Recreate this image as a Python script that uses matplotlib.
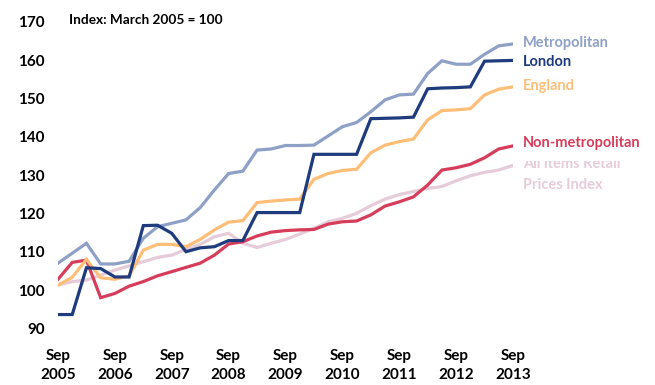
import matplotlib
matplotlib.use("Agg")
import matplotlib.pyplot as plt
from matplotlib.patches import Rectangle

plt.rcParams['font.family'] = ['Lato', 'DejaVu Sans']

quarters = ["Sep 2005"] + [""] * 31 + ["Sep 2013"]
xtick_labels = ["Sep\n2005", "Sep\n2006", "Sep\n2007", "Sep\n2008", "Sep\n2009",
                "Sep\n2010", "Sep\n2011", "Sep\n2012", "Sep\n2013"]
yticks = [90, 100, 110, 120, 130, 140, 150, 160, 170]

metropolitan = [107.0, 109.6, 112.2, 106.8, 106.8, 107.5, 113.5, 116.5, 117.4, 118.3, 121.5,
                126.1, 130.4, 131.0, 136.5, 136.8, 137.7, 137.7, 137.8, 140.2, 142.6,
                143.7, 146.5, 149.6, 150.9, 151.1, 156.5, 159.8, 158.9, 158.9, 161.5, 163.7, 164.2]
london = [93.6, 93.6, 105.8, 105.6, 103.4, 103.4, 116.8, 116.9, 114.8, 110.0, 111.0,
          111.3, 112.9, 112.9, 120.2, 120.2, 120.2, 120.2, 135.4, 135.4, 135.4,
          135.4, 144.7, 144.8, 144.9, 145.1, 152.5, 152.7, 152.8, 153.0, 159.7, 159.8, 159.9]
england = [101.3, 103.3, 108.0, 103.2, 102.8, 103.7, 110.4, 111.9, 111.9, 111.3, 113.2,
           115.7, 117.7, 118.1, 122.8, 123.2, 123.5, 123.7, 128.9, 130.4, 131.2,
           131.5, 135.8, 137.8, 138.7, 139.4, 144.4, 146.8, 147.0, 147.3, 150.9, 152.4, 153.0]
non_metropolitan = [102.8, 107.2, 107.8, 98.0, 99.1, 101.0, 102.2, 103.7, 104.8, 105.9, 107.0,
                    109.1, 112.0, 112.6, 114.1, 115.1, 115.5, 115.7, 115.8, 117.2, 117.8,
                    118.0, 119.6, 121.9, 123.0, 124.3, 127.4, 131.3, 131.9, 132.8, 134.5, 136.8, 137.6]
rpi = [101.3, 102.2, 102.6, 103.9, 105.2, 106.3, 107.4, 108.5, 109.1, 110.6, 111.9,
       113.9, 114.8, 112.2, 111.1, 112.2, 113.2, 114.6, 116.1, 117.8, 118.7,
       120.0, 122.0, 123.7, 124.9, 125.7, 126.5, 127.0, 128.5, 129.8, 130.7, 131.3, 132.5]

series = [
    ("All items Retail\nPrices Index", rpi, "#E6CBD9"),
    ("Non-metropolitan", non_metropolitan, "#D63D5A"),
    ("England", england, "#FFBE78"),
    ("Metropolitan", metropolitan, "#8EA0C6"),
    ("London", london, "#1E3B7D"),
]

W, H = 655, 385
fig = plt.figure(figsize=(W / 100, H / 100), dpi=100)
ylo, yhi = 86, 172
px_per_unit = 3.833
top_px = 21.7 - (yhi - 170) * px_per_unit
bot_px = 21.7 + (170 - ylo) * px_per_unit
left_px, right_px = 58, 513
ax = fig.add_axes([left_px / W, 1 - bot_px / H, (right_px - left_px) / W, (bot_px - top_px) / H])

x = list(range(len(quarters)))
for name, vals, col in series:
    ax.plot(x, vals, color=col, lw=2.3, solid_joinstyle='miter')

ax.set_xlim(0, len(quarters) - 1)
ax.set_ylim(ylo, yhi)
ax.set_xticks(list(range(0, len(quarters), 4)))
ax.set_xticklabels(xtick_labels, fontsize=11, fontweight='bold', linespacing=1.5)
ax.set_yticks(yticks)
ax.set_yticklabels([str(v) for v in yticks], fontsize=11, fontweight='bold')
ax.tick_params(axis='both', length=0)
ax.tick_params(axis='y', pad=9.5)
ax.tick_params(axis='x', pad=3.5)
for s in ax.spines.values():
    s.set_visible(False)

fig.text(69 / W, 1 - 20 / H, "Index: March 2005 = 100", fontsize=9.8, fontweight='bold',
         ha='left', va='center', color='black')

lx = 523 / W
labels = [
    ("Metropolitan", 43.3, "#8EA0C6"),
    ("London", 62.3, "#1E3B7D"),
    ("England", 86.0, "#FFBE78"),
    ("Non-metropolitan", 143.3, "#D63D5A"),
]
for t, ypx, col in labels:
    fig.text(lx, 1 - ypx / H, t, fontsize=10.5, fontweight='bold', color=col,
             ha='left', va='center', zorder=3)

fig.text(lx, 1 - 174.5 / H, "All items Retail\nPrices Index", fontsize=10.5, fontweight='bold',
         color="#E6CBD9", ha='left', va='center', linespacing=1.55, zorder=1)
# white box of the Non-metropolitan label hides the top of the RPI label
fig.patches.append(Rectangle((518 / W, 1 - 160.5 / H), 135 / W, 8 / H,
                             transform=fig.transFigure, facecolor='white',
                             edgecolor='none', zorder=2))

fig.savefig("out.png", dpi=100)
